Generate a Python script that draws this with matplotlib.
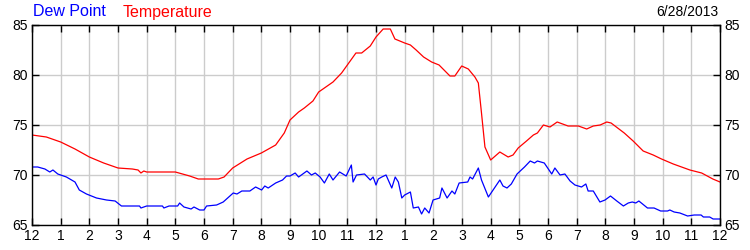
#----------------------------------------------------------------------------------------------------------------------
# Imports

import numpy as np
import matplotlib
matplotlib.use("Agg")
import matplotlib.pyplot as plt

#----------------------------------------------------------------------------------------------------------------------
# Data (hours since midnight, degrees F)

temp_h = [0.0, 0.5, 1.0, 1.5, 2.0, 2.5, 3.0, 3.5, 3.7, 3.8, 3.9, 4.0, 4.5, 5.0, 5.5, 5.8, 6.5, 6.7, 7.0, 7.5,
          8.0, 8.5, 8.8, 9.0, 9.3, 9.5, 9.8, 10.0, 10.5, 10.8, 11.0, 11.3, 11.5, 11.8, 12.0, 12.25, 12.5, 12.66,
          13.0, 13.2, 13.4, 13.66, 13.94, 14.2, 14.58, 14.75, 14.99, 15.22, 15.45, 15.57, 15.68, 15.8, 16.0,
          16.32, 16.61, 16.78, 16.96, 17.25, 17.49, 17.63, 17.84, 18.07, 18.32, 18.7, 19.06, 19.35, 19.58,
          19.82, 20.05, 20.2, 20.43, 20.66, 20.97, 21.32, 21.67, 21.96, 22.37, 22.95, 23.36, 23.75, 24.0]
temp_v = [74.0, 73.8, 73.3, 72.6, 71.8, 71.2, 70.7, 70.6, 70.5, 70.2, 70.4, 70.3, 70.3, 70.3, 69.9, 69.6, 69.6,
          69.8, 70.7, 71.6, 72.2, 73.0, 74.2, 75.5, 76.3, 76.7, 77.4, 78.3, 79.3, 80.2, 81.0, 82.2, 82.2, 82.9,
          83.8, 84.6, 84.6, 83.6, 83.2, 83.0, 82.5, 81.8, 81.3, 81.0, 79.9, 79.9, 80.9, 80.6, 79.8, 79.2, 76.2,
          72.8, 71.5, 72.3, 71.8, 72.0, 72.7, 73.4, 74.0, 74.2, 75.0, 74.8, 75.3, 74.9, 74.9, 74.6, 74.9, 75.0,
          75.3, 75.2, 74.7, 74.2, 73.4, 72.4, 72.0, 71.6, 71.1, 70.5, 70.2, 69.6, 69.3]

dew_h = [0.0, 0.2, 0.45, 0.62, 0.73, 0.9, 1.2, 1.5, 1.65, 1.9, 2.25, 2.6, 2.9, 3.12, 3.75, 3.8, 4.0, 4.55, 4.6,
         4.78, 5.08, 5.15, 5.3, 5.55, 5.65, 5.85, 6.0, 6.09, 6.44, 6.67, 7.02, 7.15, 7.32, 7.6, 7.8, 8.01, 8.12,
         8.24, 8.5, 8.74, 8.88, 9.0, 9.18, 9.3, 9.59, 9.75, 9.88, 10.05, 10.2, 10.37, 10.5, 10.73, 10.96, 11.14,
         11.2, 11.32, 11.6, 11.8, 11.9, 12.0, 12.08, 12.2, 12.35, 12.55, 12.67, 12.78, 12.9, 13.0, 13.2, 13.3,
         13.48, 13.59, 13.7, 13.85, 13.99, 14.22, 14.3, 14.48, 14.65, 14.75, 14.9, 15.2, 15.28, 15.37, 15.57,
         15.68, 15.92, 16.13, 16.32, 16.43, 16.57, 16.72, 16.92, 17.18, 17.38, 17.53, 17.63, 17.87, 18.13, 18.24,
         18.42, 18.59, 18.77, 18.94, 19.17, 19.32, 19.4, 19.58, 19.81, 19.99, 20.18, 20.4, 20.63, 20.8, 20.94,
         21.06, 21.17, 21.47, 21.7, 21.93, 22.17, 22.25, 22.4, 22.6, 22.87, 23.1, 23.34, 23.42, 23.64, 23.76,
         24.0]
dew_v = [70.8, 70.8, 70.6, 70.3, 70.5, 70.1, 69.8, 69.3, 68.5, 68.1, 67.7, 67.5, 67.4, 66.9, 66.9, 66.7, 66.9,
         66.9, 66.7, 66.9, 66.9, 67.2, 66.8, 66.6, 66.8, 66.5, 66.5, 66.9, 67.0, 67.3, 68.2, 68.1, 68.4, 68.4,
         68.8, 68.5, 68.9, 68.7, 69.2, 69.5, 69.9, 69.9, 70.2, 69.8, 70.4, 70.0, 70.2, 69.8, 69.2, 70.1, 69.5,
         70.3, 69.9, 71.0, 69.3, 70.0, 70.1, 69.5, 69.8, 69.0, 69.6, 69.8, 70.0, 68.7, 69.8, 69.3, 67.7, 68.0,
         68.3, 66.7, 66.8, 66.1, 66.7, 66.2, 67.5, 67.7, 68.7, 67.7, 68.4, 68.1, 69.2, 69.3, 69.8, 69.6, 70.7,
         69.5, 67.8, 68.7, 69.5, 68.9, 68.7, 69.1, 70.1, 70.8, 71.4, 71.2, 71.4, 71.2, 70.1, 70.7, 70.0, 70.1,
         69.4, 69.0, 68.8, 69.1, 68.4, 68.4, 67.3, 67.5, 67.9, 67.4, 66.9, 67.2, 67.3, 67.2, 67.4, 66.7, 66.7,
         66.4, 66.4, 66.5, 66.3, 66.2, 65.9, 66.0, 66.0, 65.8, 65.8, 65.6, 65.6]

hour_labels = ["12", "1", "2", "3", "4", "5", "6", "7", "8", "9", "10", "11",
               "12", "1", "2", "3", "4", "5", "6", "7", "8", "9", "10", "11", "12"]
y_ticks = [65, 70, 75, 80, 85]

#----------------------------------------------------------------------------------------------------------------------
# Plot

plt.rcParams['font.family'] = ['Liberation Sans', 'DejaVu Sans']

fig = plt.figure(figsize=(7.5, 2.5), dpi=100)
ax = fig.add_axes([32 / 750, 25 / 250, 688 / 750, 200 / 250])

ax.plot(temp_h, temp_v, color="#ff0000", lw=0.9)
ax.plot(dew_h, dew_v, color="#0000ff", lw=0.9)

ax.set_xlim(0, 24)
ax.set_ylim(65, 85)
ax.set_xticks(np.arange(0, 25))
ax.set_xticklabels(hour_labels)
ax.set_yticks(y_ticks)
ax.grid(color="#cccccc", lw=1.0)
ax.set_axisbelow(True)

ax.tick_params(axis="both", direction="in", length=5, width=1, labelsize=10, color="black",
               top=True, right=True, labelright=True, pad=3)
for s in ax.spines.values():
    s.set_linewidth(1.0)
    s.set_color("black")

fig.text(33 / 750, 1 - 12 / 250, "Dew Point", color="#0000ff", fontsize=11.5, va="center", ha="left")
fig.text(123 / 750, 1 - 12 / 250, "Temperature", color="#ff0000", fontsize=11.5, va="center", ha="left")
fig.text(718 / 750, 1 - 12 / 250, "6/28/2013", color="black", fontsize=10, va="center", ha="right")

fig.savefig("out.png", dpi=100)
